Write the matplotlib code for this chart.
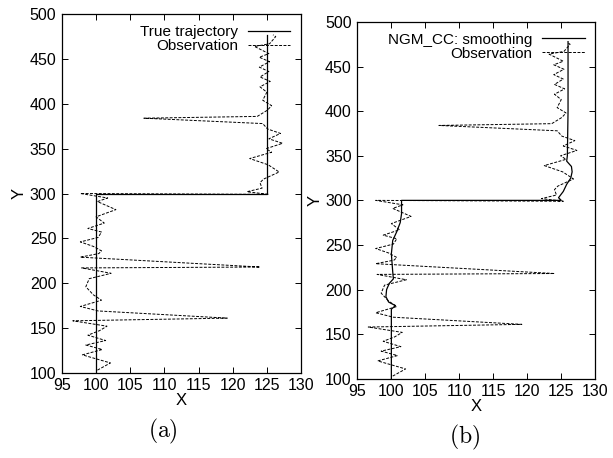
import numpy as np
import matplotlib
matplotlib.use("Agg")
import matplotlib.pyplot as plt

plt.rcParams['font.family'] = ['Liberation Sans', 'DejaVu Sans']
plt.rcParams['mathtext.fontset'] = 'cm'

# true trajectory
true_x = [100, 100, 125, 125]
true_y = [100, 300, 300, 477]

# observations (dashed)
obs_x = [100.2, 102.1, 98.0, 100.9, 98.5, 101.4, 98.8, 100.5, 101.6, 96.6,
         119.2, 100.3, 97.7, 100.8, 99.6, 98.5, 99.0, 102.2, 97.9, 124.0,
         97.7, 100.4, 100.8, 99.6, 97.7, 100.3, 100.8, 98.8, 101.2, 100.0,
         102.9, 100.2, 101.7, 97.7,
         125.3, 122.1, 124.3, 124.0, 124.5, 126.8, 125.2, 122.5, 125.7, 124.9,
         127.3, 125.3, 127.0, 125.1, 124.4, 107.0, 123.6, 125.1, 125.7, 124.4,
         125.0, 124.0, 125.5, 124.0, 125.3, 123.9, 125.4, 123.9, 125.3, 123.2,
         125.4, 126.3, 125.9]
obs_y = [103, 111, 120, 126, 131, 136, 142, 147, 152, 158,
         161, 169, 174, 181, 187, 196, 205, 211, 217, 218,
         229, 233, 236, 241, 246, 251, 257, 261, 267, 274,
         282, 291, 295, 300,
         299, 302, 306, 312, 316, 324, 332, 339, 346, 350,
         356, 361, 367, 372, 378, 384, 386, 393, 398, 404,
         413, 419, 425, 430, 436, 441, 447, 452, 456, 464,
         467, 475, 477]

# NGM_CC smoothing estimate
smooth_x = [100.0, 100.0, 100.6, 99.6, 99.2, 99.3, 99.7, 100.3, 100.2, 100.0,
            100.2, 100.8, 101.3, 101.5, 101.5, 125.0, 124.6, 125.3, 125.8,
            126.4, 126.6, 126.5, 125.8, 125.9, 126.0, 126.0]
smooth_y = [100, 178, 182, 186, 192, 200, 207, 212, 220, 240,
            255, 265, 275, 285, 300, 300, 303, 310, 318,
            325, 332, 338, 344, 350, 400, 478]

xticks = [95, 100, 105, 110, 115, 120, 125, 130]
yticks = [100, 150, 200, 250, 300, 350, 400, 450, 500]

fig = plt.figure(figsize=(6.13, 4.58), dpi=100)
ax1 = fig.add_axes([0.101, 0.186, 0.390, 0.783])
ax2 = fig.add_axes([0.583, 0.173, 0.388, 0.779])

panels = [(ax1, true_x, true_y, 'True trajectory', '(a)', 0.266, 0.057),
          (ax2, smooth_x, smooth_y, 'NGM_CC: smoothing', '(b)', 0.758, 0.045)]

for ax, sx, sy, name, tag, tx, ty in panels:
    ax.plot(sx, sy, color='black', lw=0.9, label=name)
    ax.plot(obs_x, obs_y, color='black', lw=0.7, ls=(0, (3, 1.5)), label='Observation')
    ax.set_xlim(95, 130)
    ax.set_ylim(100, 500)
    ax.set_xticks(xticks)
    ax.set_yticks(yticks)
    ax.tick_params(direction='in', top=True, right=True, labelsize=11.5,
                   length=4, width=0.7, pad=4)
    for s in ax.spines.values():
        s.set_linewidth(0.9)
    ax.set_xlabel('X', fontsize=12, labelpad=0)
    ax.set_ylabel('Y', fontsize=12, labelpad=2)
    ax.legend(loc='upper right', frameon=False, markerfirst=False, fontsize=11,
              handlelength=2.8, handletextpad=0.6, labelspacing=0.0,
              borderaxespad=0.5, borderpad=0.2)
    fig.text(tx, ty, r'$\rm ' + tag + '$', ha='center', va='center', fontsize=17)

fig.savefig('out.png', dpi=100)
